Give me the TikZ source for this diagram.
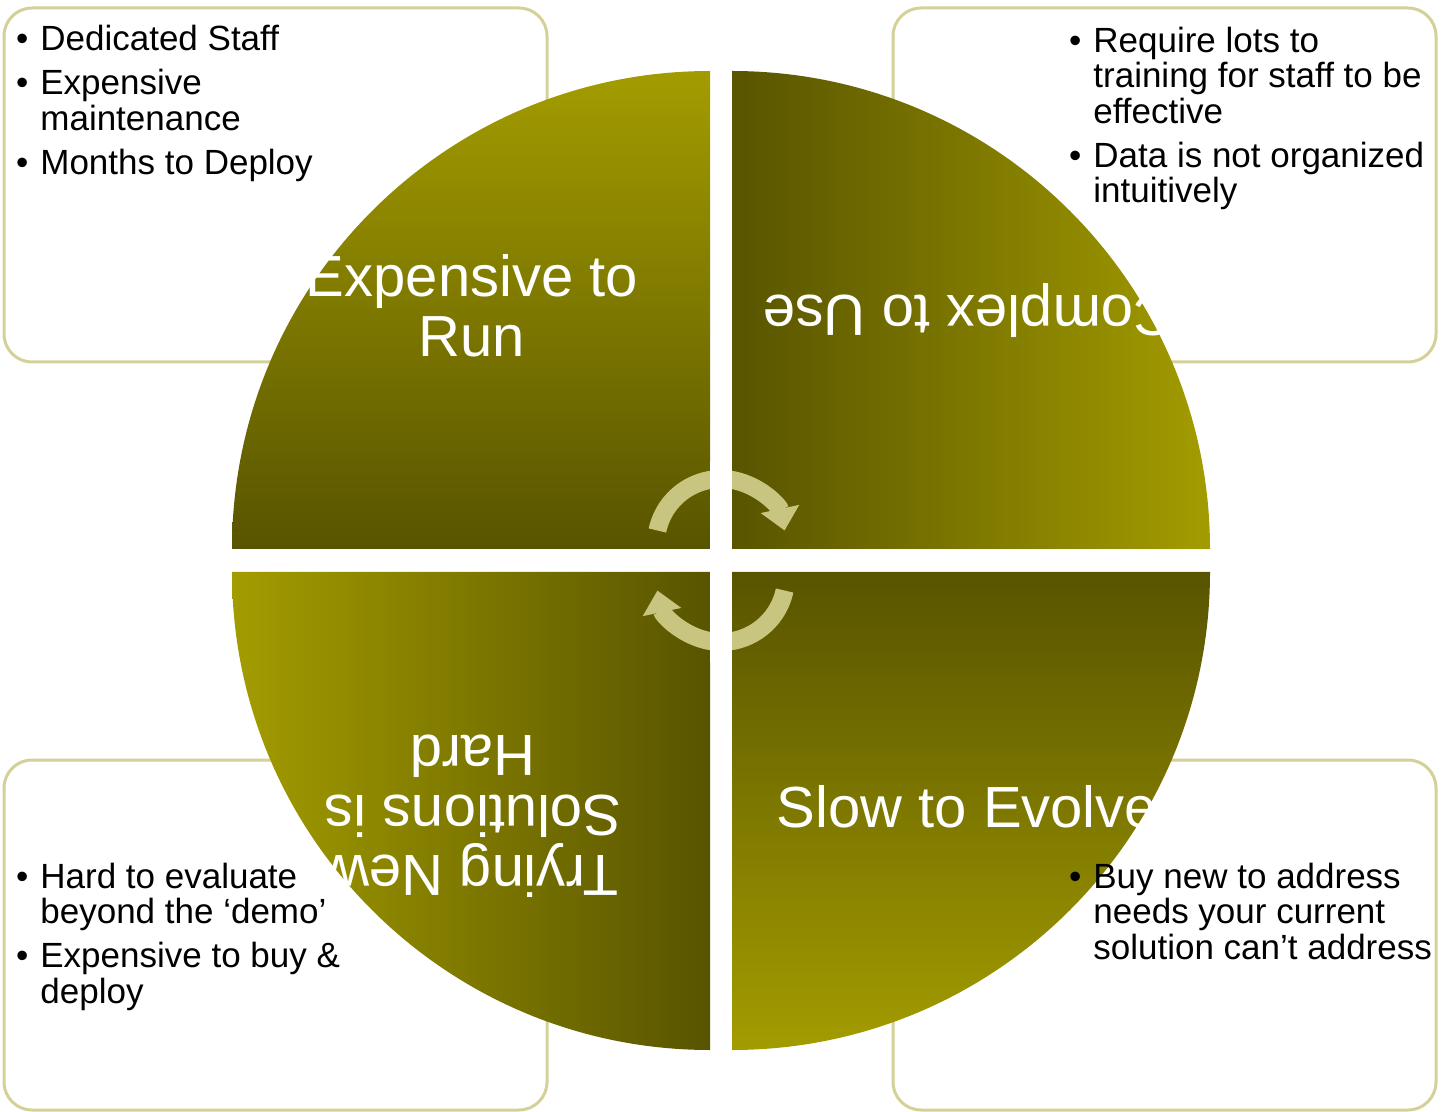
\documentclass[tikz,border=0pt]{standalone}
\usepackage{fontspec}
\setmainfont{Liberation Sans}
\usepackage{tikz}
\usetikzlibrary{arrows.meta, positioning}
\definecolor{olivelight}{RGB}{163,156,0}
\definecolor{olivedark}{RGB}{88,84,0}
\definecolor{boxline}{RGB}{212,209,152}
\definecolor{cyclecol}{RGB}{199,197,128}
\newcommand{\listfont}{\fontsize{17.5pt}{17.75pt}\selectfont}
\newcommand{\titlefont}{\fontsize{29pt}{30pt}\selectfont}
\newcommand{\bul}{\llap{•\hspace{6pt}}}

\begin{document}
\begin{tikzpicture}[x=0.5pt, y=-0.5pt]

% TikZ styles
\tikzset{
  infobox/.style={draw=boxline, line width=1.5pt, rounded corners=14pt},
  bulletlist/.style={anchor=north west, inner sep=0pt, align=left, font=\listfont, text=black},
  quadtitle/.style={text=white, font=\titlefont, align=center, inner sep=0pt},
  cyclearrow/.style={draw=cyclecol, line width=9pt, -{Triangle[width=19pt, length=11pt]}}
};

\useasboundingbox (0,0) rectangle (1441,1112);

% --- Kaesten in den Ecken ---
\draw[infobox] (4,8) rectangle (547,362);
\draw[infobox] (893,8) rectangle (1436,362);
\draw[infobox] (4,760) rectangle (547,1110);
\draw[infobox] (893,760) rectangle (1436,1110);

% --- Viertelkreise ---
\shade[top color=olivelight, bottom color=olivedark]
  (710,549) -- (232,549) arc[start angle=180, end angle=270, radius=478] -- cycle;
\shade[left color=olivedark, right color=olivelight]
  (732,549) -- (732,71) arc[start angle=270, end angle=360, radius=478] -- cycle;
\shade[left color=olivelight, right color=olivedark]
  (710,572) -- (710,1050) arc[start angle=90, end angle=180, radius=478] -- cycle;
\shade[top color=olivedark, bottom color=olivelight]
  (732,572) -- (1210,572) arc[start angle=0, end angle=90, radius=478] -- cycle;

% --- Kreispfeile ---
\draw[cyclearrow] (721,544) ++(192:65) arc[start angle=192, end angle=348, radius=65];
\draw[cyclearrow] (721,577) ++(12:65) arc[start angle=12, end angle=168, radius=65];
\fill[white] (710,462) rectangle (732,662);

% --- Titel ---
\node[quadtitle] (runtitle) at (472,306) {Expensive to\\Run};
\node[quadtitle, rotate=180] (usetitle) at (969,310) {Complex to Use};
\node[quadtitle, rotate=180] (newtitle) at (473,816) {Trying New\\Solutions is\\Hard};
\node[quadtitle] (evolvetitle) at (967,807) {Slow to Evolve};

% --- Stichpunkte ---
\node[bulletlist] (runlist) at (40,25)
  {\bul Dedicated Staff\\[4.25pt] \bul Expensive\\ maintenance\\[4.25pt] \bul Months to Deploy};
\node[bulletlist] (uselist) at (1093,26.5)
  {\bul Require lots to\\ training for staff to be\\ effective\\[4.25pt] \bul Data is not organized\\ intuitively};
\node[bulletlist] (newlist) at (40,862.5)
  {\bul Hard to evaluate\\ beyond the ‘demo’\\[4.25pt] \bul Expensive to buy \&\\ deploy};
\node[bulletlist] (evolvelist) at (1093,862.5)
  {\bul Buy new to address\\ needs your current\\ solution can’t address};

\end{tikzpicture}
\end{document}
